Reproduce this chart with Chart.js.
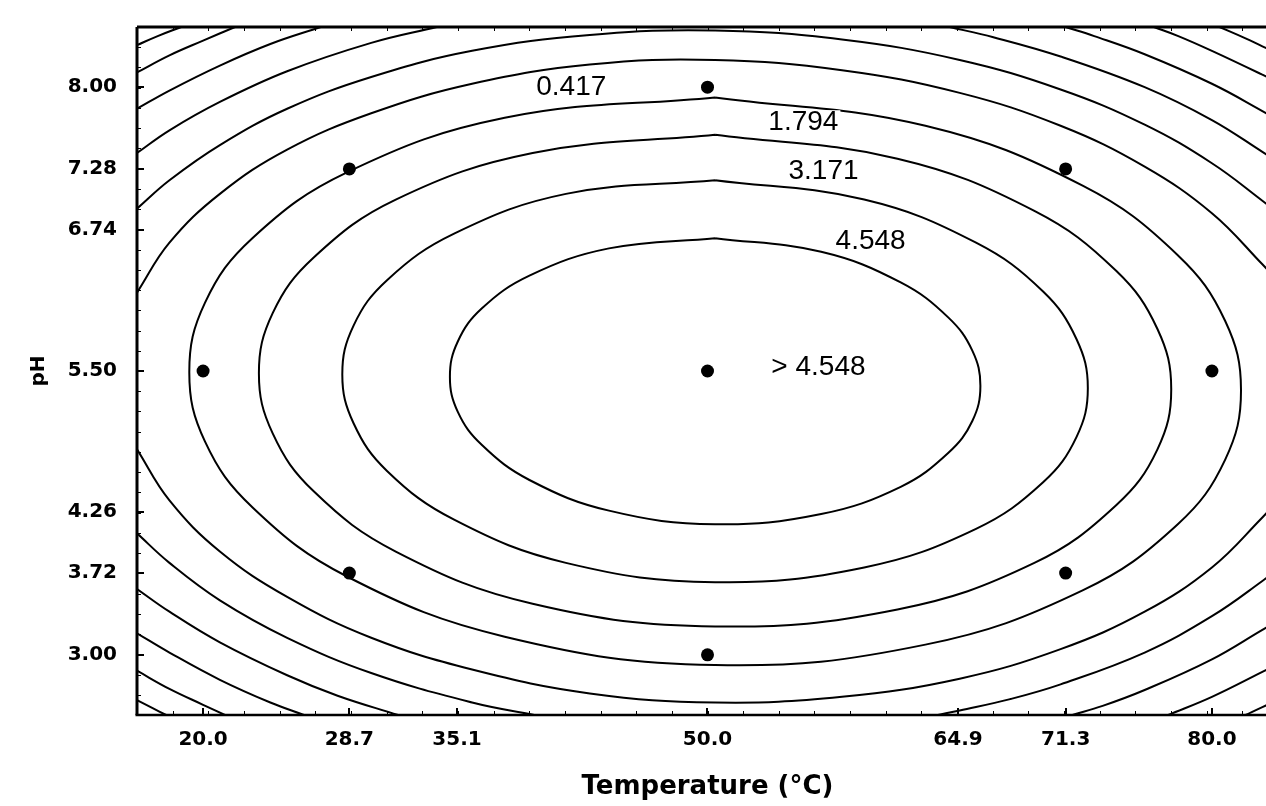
<!DOCTYPE html>
<html>
<head>
<meta charset="utf-8">
<script src="https://cdn.jsdelivr.net/npm/chart.js@4.4.1/dist/chart.umd.min.js"></script>
<style>
  html, body { margin: 0; padding: 0; background: #fff; overflow: hidden; }
  #wrap { width: 1266px; height: 806px; overflow: hidden; }
  canvas { display: block; }
</style>
</head>
<body>
<div id="wrap"><canvas id="chart" width="1278" height="806"></canvas></div>
<script>
// Axis tick values
const temperatureTicks = [20.0, 28.7, 35.1, 50.0, 64.9, 71.3, 80.0];
const phTicks = [3.00, 3.72, 4.26, 5.50, 6.74, 7.28, 8.00];

// Experimental design points (temperature, pH)
const designTemperature = [50.0, 28.7, 71.3, 20.0, 50.0, 80.0, 28.7, 71.3, 50.0];
const designPH = [8.00, 7.28, 7.28, 5.50, 5.50, 5.50, 3.72, 3.72, 3.00];

// Contour levels of the response, inner to outer
const contourLevels = [4.548, 3.171, 1.794, 0.417, -0.960, -2.337, -3.714, -5.091, -6.468, -7.845];

// Contour paths as [temperature, pH] pairs
const contour4548 = [[50.45,6.67],[56.76,6.55],[61.49,6.28],[64.33,5.97],[65.75,5.68],[66.23,5.37],[65.75,5.06],[64.33,4.78],[61.49,4.48],[56.76,4.24],[50.45,4.15],[44.14,4.27],[39.41,4.54],[36.57,4.85],[35.15,5.14],[34.68,5.45],[35.15,5.76],[36.57,6.05],[39.41,6.34],[44.14,6.58],[50.45,6.67]];
const contour3171 = [[50.45,7.18],[59.32,7.01],[65.97,6.63],[69.96,6.20],[71.95,5.78],[72.62,5.35],[71.95,4.92],[69.96,4.52],[65.97,4.11],[59.32,3.77],[50.45,3.64],[41.58,3.81],[34.93,4.19],[30.94,4.62],[28.95,5.04],[28.28,5.47],[28.95,5.90],[30.94,6.30],[34.93,6.71],[41.58,7.06],[50.45,7.18]];
const contour1794 = [[50.45,7.58],[61.30,7.37],[69.44,6.91],[74.32,6.38],[76.76,5.87],[77.58,5.34],[76.76,4.81],[74.32,4.32],[69.44,3.81],[61.30,3.40],[50.45,3.25],[39.60,3.45],[31.46,3.91],[26.58,4.44],[24.14,4.95],[23.32,5.48],[24.14,6.01],[26.58,6.50],[31.46,7.01],[39.60,7.42],[50.45,7.58]];
const contour0417 = [[50.45,7.91],[62.96,7.66],[72.34,7.13],[77.97,6.52],[80.79,5.94],[81.73,5.33],[80.79,4.72],[77.97,4.15],[72.34,3.57],[62.96,3.09],[50.45,2.91],[37.94,3.16],[28.56,3.69],[22.93,4.30],[20.11,4.88],[19.18,5.49],[20.11,6.10],[22.93,6.67],[28.56,7.25],[37.94,7.73],[50.45,7.91]];

const contourM0960Upper = [[16.07,6.19],[18,6.63],[21,7.06],[25,7.45],[30,7.77],[36,8.03],[43,8.20],[50.45,8.24],[58,8.15],[65,7.95],[71,7.66],[76,7.30],[80,6.89],[83,6.44],[83.93,6.29]];
const contourM0960Lower = [[16.07,4.81],[18,4.36],[21,3.91],[25,3.51],[30,3.15],[36,2.87],[43,2.66],[50.45,2.58],[58,2.63],[65,2.79],[71,3.05],[76,3.38],[80,3.77],[83,4.21],[83.93,4.36]];

const contourM2337Upper = [[16.07,6.93],[18,7.18],[21,7.49],[25,7.81],[30,8.09],[36,8.32],[43,8.46],[50.45,8.50],[58,8.42],[65,8.24],[71,7.98],[76,7.67],[80,7.33],[83,7.00],[83.93,6.89]];
const contourM2337LowerLeft = [[16.07,4.07],[18,3.81],[21,3.48],[25,3.15],[30,2.84],[36,2.58],[39.7,2.47]];
const contourM2337LowerRight = [[63.7,2.47],[65,2.51],[68,2.61],[71,2.74],[76,3.02],[80,3.34],[83,3.65],[83.93,3.76]];

const contourM3714UpperLeft = [[16.07,7.42],[18,7.62],[21,7.87],[25,8.14],[30,8.39],[33.9,8.53]];
const contourM3714UpperRight = [[64.4,8.53],[67,8.44],[71,8.27],[76,8.00],[80,7.71],[83,7.43],[83.93,7.34]];
const contourM3714LowerLeft = [[16.07,3.58],[18,3.38],[21,3.11],[25,2.82],[28,2.64],[31.6,2.47]];
const contourM3714LowerRight = [[71.7,2.47],[73.5,2.55],[76,2.69],[80,2.96],[83,3.22],[83.93,3.30]];

const contourM5091UpperLeft = [[16.07,7.81],[18,7.97],[21,8.19],[24,8.38],[27,8.53]];
const contourM5091UpperRight = [[71.3,8.53],[73,8.45],[76,8.29],[80,8.03],[83,7.79],[83.93,7.71]];
const contourM5091LowerLeft = [[16.07,3.19],[18,3.02],[21,2.78],[24,2.58],[26,2.47]];
const contourM5091LowerRight = [[77.4,2.47],[80,2.63],[83,2.85],[83.93,2.92]];

const contourM6468UpperLeft = [[16.07,8.13],[18,8.28],[20,8.41],[21.9,8.53]];
const contourM6468UpperRight = [[76.55,8.53],[78,8.45],[80,8.32],[83,8.11],[83.93,8.04]];
const contourM6468LowerLeft = [[16.07,2.86],[18,2.70],[20,2.56],[21.3,2.47]];
const contourM6468LowerRight = [[82.0,2.47],[83,2.54],[83.93,2.60]];

const contourM7845UpperLeft = [[16.07,8.37],[17.3,8.45],[18.7,8.53]];
const contourM7845UpperRight = [[80.45,8.53],[82,8.43],[83,8.36],[83.93,8.30]];
const contourM7845LowerLeft = [[16.07,2.60],[17,2.53],[17.8,2.47]];

// Which level each path belongs to
const contourPaths = [
  [0, contour4548], [1, contour3171], [2, contour1794], [3, contour0417],
  [4, contourM0960Upper], [4, contourM0960Lower],
  [5, contourM2337Upper], [5, contourM2337LowerLeft], [5, contourM2337LowerRight],
  [6, contourM3714UpperLeft], [6, contourM3714UpperRight], [6, contourM3714LowerLeft], [6, contourM3714LowerRight],
  [7, contourM5091UpperLeft], [7, contourM5091UpperRight], [7, contourM5091LowerLeft], [7, contourM5091LowerRight],
  [8, contourM6468UpperLeft], [8, contourM6468UpperRight], [8, contourM6468LowerLeft], [8, contourM6468LowerRight],
  [9, contourM7845UpperLeft], [9, contourM7845UpperRight], [9, contourM7845LowerLeft]
];

// Contour labels: level index and anchor position (temperature, pH)
const labelLevelIndex = [3, 2, 1, 0];
const labelTemperature = [41.9, 55.7, 56.9, 59.7];
const labelPH = [8.01, 7.70, 7.27, 6.65];
const centreLabelTemperature = 56.6;
const centrePH = 5.54;

// Axis ranges
const temperatureRange = [16.07, 83.93];
const phRange = [2.47, 8.53];

const contourDatasets = contourPaths.map(([lvl, pts]) => ({
  label: 'Z = ' + contourLevels[lvl].toFixed(3),
  data: pts.map(p => ({ x: p[0], y: p[1] })),
  showLine: true,
  borderColor: '#000',
  borderWidth: 2,
  pointRadius: 0,
  pointHoverRadius: 0,
  tension: 0.4,
  fill: false
}));

const pointDataset = {
  label: 'Design points',
  data: designTemperature.map((t, i) => ({ x: t, y: designPH[i] })),
  showLine: false,
  pointRadius: 6.5,
  pointHoverRadius: 6.5,
  backgroundColor: '#000',
  borderColor: '#000',
  borderWidth: 0
};

// Frame, tick marks and contour labels
const framePlugin = {
  id: 'frame',
  afterDatasetsDraw(chart) {
    const { ctx, chartArea: a, scales: { x, y } } = chart;
    ctx.save();
    ctx.strokeStyle = '#000';
    ctx.lineCap = 'butt';

    // minor ticks
    ctx.lineWidth = 1;
    ctx.beginPath();
    const xStep = (temperatureRange[1] - temperatureRange[0]) / 32;
    for (let i = 0; i <= 32; i++) {
      const px = Math.round(x.getPixelForValue(temperatureRange[0] + i * xStep)) + 0.5;
      ctx.moveTo(px, a.top); ctx.lineTo(px, a.top + 4);
      ctx.moveTo(px, a.bottom); ctx.lineTo(px, a.bottom - 4);
    }
    const yStep = (phRange[1] - phRange[0]) / 34;
    for (let i = 0; i <= 34; i++) {
      const py = Math.round(y.getPixelForValue(phRange[0] + i * yStep)) + 0.5;
      ctx.moveTo(a.left, py); ctx.lineTo(a.left + 4, py);
    }
    ctx.stroke();

    // major ticks
    ctx.lineWidth = 2;
    ctx.beginPath();
    temperatureTicks.forEach(v => {
      const px = Math.round(x.getPixelForValue(v));
      ctx.moveTo(px, a.bottom); ctx.lineTo(px, a.bottom - 7);
    });
    phTicks.forEach(v => {
      const py = Math.round(y.getPixelForValue(v));
      ctx.moveTo(a.left, py); ctx.lineTo(a.left + 7, py);
    });
    ctx.stroke();

    // frame: top, left, bottom
    ctx.lineWidth = 3;
    ctx.beginPath();
    ctx.moveTo(a.left, a.top); ctx.lineTo(a.right, a.top);
    ctx.moveTo(a.left, a.top); ctx.lineTo(a.left, a.bottom);
    ctx.stroke();
    ctx.lineWidth = 2.5;
    ctx.beginPath();
    ctx.moveTo(a.left - 1.5, a.bottom); ctx.lineTo(a.right, a.bottom);
    ctx.stroke();

    // contour labels
    ctx.font = '28px "Liberation Sans", Arial, sans-serif';
    ctx.textAlign = 'center';
    ctx.textBaseline = 'middle';
    const drawLabel = (text, tx, ty) => {
      const px = x.getPixelForValue(tx);
      const py = y.getPixelForValue(ty);
      const w = ctx.measureText(text).width;
      ctx.fillStyle = '#fff';
      ctx.fillRect(px - w / 2 - 2, py - 11, w + 4, 22);
      ctx.fillStyle = '#000';
      ctx.fillText(text, px, py + 1);
    };
    labelLevelIndex.forEach((li, i) => {
      drawLabel(contourLevels[li].toFixed(3), labelTemperature[i], labelPH[i]);
    });
    drawLabel('> ' + contourLevels[0].toFixed(3), centreLabelTemperature, centrePH);
    ctx.restore();
  }
};

const tickFont = { family: '"DejaVu Sans", sans-serif', size: 20, weight: 'bold' };

new Chart(document.getElementById('chart'), {
  type: 'scatter',
  data: { datasets: [pointDataset, ...contourDatasets] },
  options: {
    responsive: false,
    animation: false,
    events: [],
    layout: { autoPadding: false, padding: { top: 27, right: 0, bottom: 0, left: 0 } },
    plugins: { legend: { display: false }, tooltip: { enabled: false } },
    scales: {
      x: {
        type: 'linear',
        min: temperatureRange[0],
        max: temperatureRange[1],
        grid: { display: false, drawTicks: false },
        border: { display: false },
        afterBuildTicks: s => { s.ticks = temperatureTicks.map(v => ({ value: v })); },
        afterFit: s => { s.height = 91; s.paddingLeft = 0; s.paddingRight = 0; },
        ticks: {
          autoSkip: false,
          maxRotation: 0,
          padding: 13,
          color: '#000',
          font: tickFont,
          callback: v => Number(v).toFixed(1)
        },
        title: {
          display: true,
          text: 'Temperature (°C)',
          color: '#000',
          font: { family: '"DejaVu Sans", sans-serif', size: 26, weight: 'bold' },
          padding: { top: 0, bottom: 3 }
        }
      },
      y: {
        type: 'linear',
        min: phRange[0],
        max: phRange[1],
        grid: { display: false, drawTicks: false },
        border: { display: false },
        afterBuildTicks: s => { s.ticks = phTicks.map(v => ({ value: v })); },
        afterFit: s => { s.width = 137; s.paddingTop = 0; s.paddingBottom = 0; },
        ticks: {
          autoSkip: false,
          padding: 20,
          color: '#000',
          font: tickFont,
          callback: v => Number(v).toFixed(2)
        },
        title: {
          display: true,
          text: 'pH',
          color: '#000',
          font: { family: '"DejaVu Sans", sans-serif', size: 20, weight: 'bold' },
          padding: { top: 27, bottom: 0 }
        }
      }
    }
  },
  plugins: [framePlugin]
});
</script>
</body>
</html>
